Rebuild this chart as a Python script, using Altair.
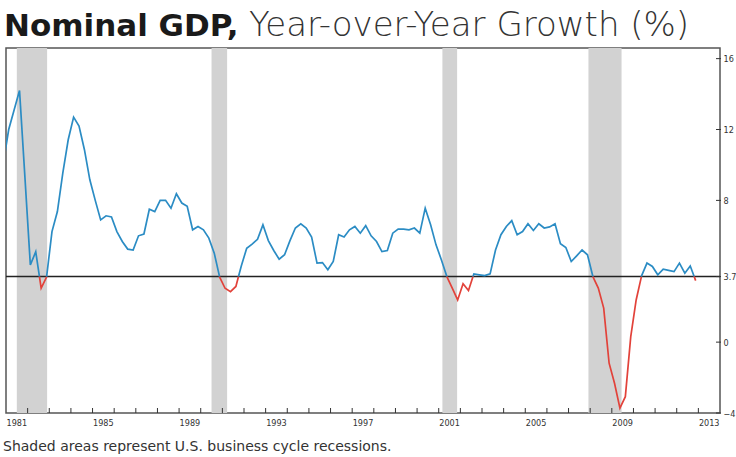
import altair as alt
import pandas as pd

# ---------------- data ----------------
first_quarter = 1980.75  # 1980 Q4 (start of quarter)
gdp_yoy = [
    10.1,                          # 1980 Q4
    12.0, 13.1, 14.2, 9.3,         # 1981
    4.36, 5.1, 3.05, 3.67,         # 1982
    6.24, 7.37, 9.54, 11.42,       # 1983
    12.7, 12.2, 10.86, 9.16,       # 1984
    8.0, 6.9, 7.13, 7.06,          # 1985
    6.24, 5.68, 5.25, 5.2,         # 1986
    6.0, 6.1, 7.5, 7.37,           # 1987
    8.0, 8.0, 7.56, 8.37,          # 1988
    7.85, 7.66, 6.34, 6.53,        # 1989
    6.34, 5.87, 5.02, 3.67,        # 1990
    3.04, 2.85, 3.14, 4.3,         # 1991
    5.3, 5.53, 5.8, 6.62,          # 1992
    5.73, 5.17, 4.68, 4.93,        # 1993
    5.73, 6.44, 6.68, 6.44,        # 1994
    5.93, 4.46, 4.49, 4.08,        # 1995
    4.55, 6.06, 5.93, 6.34,        # 1996
    6.53, 6.15, 6.57, 6.0,         # 1997
    5.68, 5.11, 5.17, 6.15,        # 1998
    6.38, 6.38, 6.34, 6.44,        # 1999
    6.15, 7.56, 6.62, 5.49,        # 2000
    4.64, 3.7, 3.05, 2.38,         # 2001
    3.29, 2.91, 3.85, 3.8,         # 2002
    3.75, 3.85, 5.2, 6.06,         # 2003
    6.53, 6.86, 6.06, 6.24,        # 2004
    6.68, 6.3, 6.68, 6.44,         # 2005
    6.5, 6.68, 5.55, 5.34,         # 2006
    4.55, 4.87, 5.2, 4.93,         # 2007
    3.7, 3.05, 1.92, -1.19,        # 2008
    -2.32, -3.73, -3.08, 0.31,     # 2009
    2.38, 3.74, 4.46, 4.27,        # 2010
    3.8, 4.12, 4.05, 3.98,         # 2011
    4.46, 3.89, 4.3, 3.47,         # 2012
]
threshold = 3.7

recession_start = [1981.5, 1990.5, 2001.17, 2007.92]
recession_end = [1982.9, 1991.22, 2001.85, 2009.45]

year_ticks = list(range(1982, 2014))
year_labels = [1981, 1985, 1989, 1993, 1997, 2001, 2005, 2009, 2013]
y_ticks = [16, 12, 8, 3.7, 0, -4]

# ---------------- build line segments (split at the 3.7 threshold) ----------------
xs = [first_quarter + 0.25 * k + 0.125 for k in range(len(gdp_yoy))]


def side(v):
    return "below" if v < threshold else "above"


rows = []
seg = 0
px, pv = xs[0], gdp_yoy[0]
cur = side(pv)
rows.append(dict(t=px, v=pv, seg=seg, side=cur))
for x, v in zip(xs[1:], gdp_yoy[1:]):
    s = side(v)
    if s != cur:
        xc = px + (threshold - pv) / (v - pv) * (x - px)
        rows.append(dict(t=xc, v=threshold, seg=seg, side=cur))
        seg += 1
        cur = s
        rows.append(dict(t=xc, v=threshold, seg=seg, side=cur))
    rows.append(dict(t=x, v=v, seg=seg, side=cur))
    px, pv = x, v
line_df = pd.DataFrame(rows)

rec_df = pd.DataFrame({"start": recession_start, "end": recession_end})
xt_df = pd.DataFrame({"year": year_ticks})
xl_df = pd.DataFrame({"year": year_labels})
yt_df = pd.DataFrame({"val": y_ticks})

W, H = 714, 365
xscale = alt.Scale(domain=[1981, 2014], nice=False, zero=False)
yscale = alt.Scale(domain=[-4, 16.6], nice=False, zero=False)
BLUE = "#2b8cc4"
RED = "#e2423a"
AXIS_FONT = "Liberation Sans Narrow, DejaVu Sans Condensed, Liberation Sans"

rec = alt.Chart(rec_df).mark_rect(color="#d2d2d2").encode(
    x=alt.X("start:Q", scale=xscale, axis=None),
    x2="end:Q",
    y=alt.value(0),
    y2=alt.value(H),
)

ref = alt.Chart(pd.DataFrame({"v": [threshold]})).mark_rule(
    color="#222222", strokeWidth=1.5
).encode(y=alt.Y("v:Q", scale=yscale))

line = alt.Chart(line_df).mark_line(strokeWidth=1.7, clip=True).encode(
    x=alt.X("t:Q", scale=xscale, axis=None),
    y=alt.Y(
        "v:Q",
        scale=yscale,
        axis=alt.Axis(
            orient="right",
            values=y_ticks,
            format=".1~f",
            ticks=False,
            grid=False,
            domain=False,
            labelPadding=3,
            labelFontSize=9,
            labelColor="#333333",
            labelFont=AXIS_FONT,
            title=None,
        ),
    ),
    detail="seg:N",
    order="t:Q",
    color=alt.Color(
        "side:N",
        scale=alt.Scale(domain=["above", "below"], range=[BLUE, RED]),
        legend=None,
    ),
)

xticks = alt.Chart(xt_df).mark_rule(color="#333333", strokeWidth=1).encode(
    x=alt.X("year:Q", scale=xscale, axis=None),
    y=alt.value(H - 5),
    y2=alt.value(H),
)

yticks = alt.Chart(yt_df).mark_rule(color="#333333", strokeWidth=1).encode(
    y=alt.Y("val:Q", scale=yscale),
    x=alt.value(W - 4),
    x2=alt.value(W + 1),
)

xlabels = (
    alt.Chart(xl_df)
    .transform_calculate(xc="datum.year + 0.5")
    .mark_text(fontSize=9, color="#333333", font=AXIS_FONT, baseline="top")
    .encode(
        x=alt.X("xc:Q", scale=xscale, axis=None),
        y=alt.value(H + 6),
        text="year:N",
    )
)

title_bold = alt.Chart(pd.DataFrame({"s": ["Nominal GDP,"]})).mark_text(
    font="DejaVu Sans", fontWeight="bold", fontSize=31, align="left",
    baseline="alphabetic", color="#1a1a1a",
).encode(x=alt.value(-2), y=alt.value(-12), text="s:N")

title_light = alt.Chart(pd.DataFrame({"s": ["Year-over-Year Growth (%)"]})).mark_text(
    font="DejaVu Sans", fontWeight=200, fontSize=34, align="left",
    baseline="alphabetic", color="#333333",
).encode(x=alt.value(243), y=alt.value(-12), text="s:N")

footnote = alt.Chart(
    pd.DataFrame({"s": ["Shaded areas represent U.S. business cycle recessions."]})
).mark_text(
    font="DejaVu Sans", fontSize=14, align="left", baseline="middle", color="#333333",
).encode(x=alt.value(-3), y=alt.value(H + 34), text="s:N")

chart = (
    alt.layer(rec, ref, line, xticks, yticks, xlabels, title_bold, title_light, footnote)
    .properties(
        width=W,
        height=H,
        autosize=alt.AutoSizeParams(type="none"),
        padding={"left": 6, "top": 48, "right": 16, "bottom": 44},
        background="white",
    )
    .configure_view(stroke="#555555", strokeWidth=1.5)
)

chart.save("out.html", embed_options={"renderer": "svg", "actions": False})
